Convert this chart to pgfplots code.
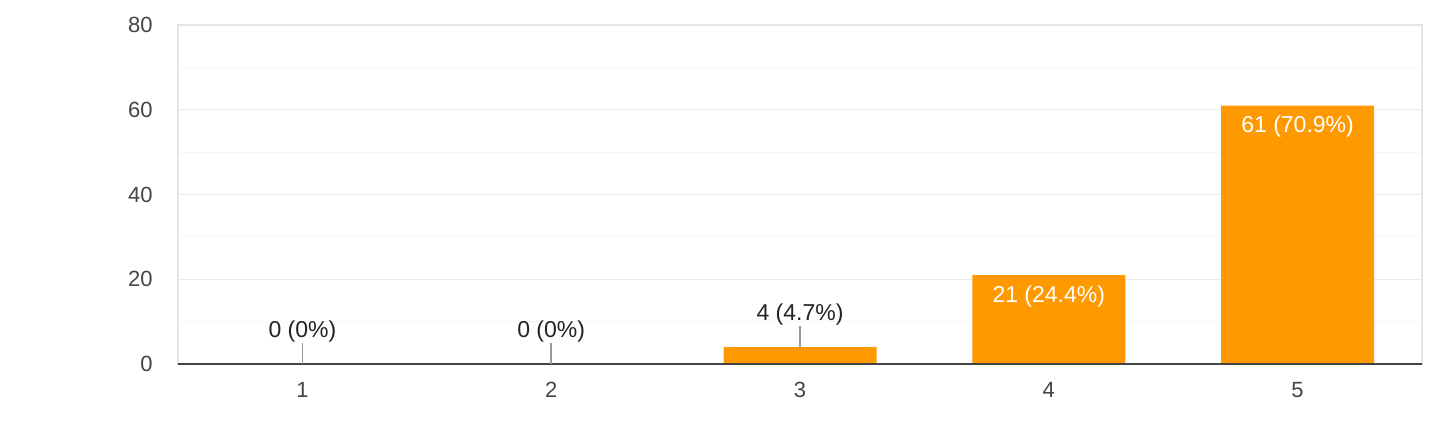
\documentclass[border=0pt]{standalone}
\usepackage{pgfplots}
\pgfplotsset{compat=1.18}
\usepackage{fontspec}
\setmainfont{Liberation Sans}
\definecolor{barorange}{HTML}{FF9900}
\definecolor{gridmaj}{HTML}{EBEBEB}
\definecolor{gridmin}{HTML}{F5F5F5}
\definecolor{framegray}{HTML}{E6E6E6}
\definecolor{tickgray}{HTML}{444444}
\definecolor{labelgray}{HTML}{222222}
\definecolor{leadergray}{HTML}{999999}
\definecolor{axisdark}{HTML}{444444}
\begin{document}
\begin{tikzpicture}
\path[use as bounding box] (-89pt,-33pt) rectangle (631pt,182pt);
\begin{axis}[
  scale only axis, width=622pt, height=169.5pt,
  xmin=0.5, xmax=5.5, ymin=0, ymax=80,
  xtick={1,2,3,4,5},
  ytick={0,20,40,60,80}, minor ytick={10,30,50,70},
  ymajorgrids, yminorgrids,
  major grid style={draw=gridmaj, line width=0.6pt},
  minor grid style={draw=gridmin, line width=0.6pt},
  major tick length=0pt, minor tick length=0pt,
  axis line style={draw=framegray, line width=0.6pt},
  tick label style={font=\fontsize{11}{13}\selectfont, text=tickgray},
  /pgf/number format/assume math mode=true,
  yticklabel style={inner sep=0pt, xshift=-12.5pt},
  xticklabel style={inner sep=0pt, yshift=-9pt},
  clip=false,
]
\addplot[ybar, bar width=76.5pt, fill=barorange, draw=none]
  coordinates {(1,0) (2,0) (3,4) (4,21) (5,61)};
% leader lines
\addplot[draw=none, mark=none, nodes near coords={\textcolor{leadergray}{\rule{0.7pt}{10.5pt}}},
  every node near coord/.append style={anchor=south, inner sep=0pt}]
  coordinates {(1,0) (2,0) (3,4)};
% labels above
\addplot[draw=none, mark=none, nodes near coords, point meta=explicit symbolic,
  every node near coord/.append style={anchor=base, inner sep=0pt, yshift=13.5pt,
    font=\fontsize{11.5}{13}\selectfont, text=labelgray}]
  coordinates {(1,0) [0 (0\%)] (2,0) [0 (0\%)] (3,4) [4 (4.7\%)]};
% labels inside
\addplot[draw=none, mark=none, nodes near coords, point meta=explicit symbolic,
  every node near coord/.append style={anchor=north, inner sep=0pt, yshift=-5pt,
    font=\fontsize{11.5}{13}\selectfont, text=white}]
  coordinates {(4,21) [21 (24.4\%)] (5,61) [61 (70.9\%)]};
\draw[draw=axisdark, line width=1pt] (rel axis cs:0,0) -- (rel axis cs:1,0);
\end{axis}
\end{tikzpicture}
\end{document}
